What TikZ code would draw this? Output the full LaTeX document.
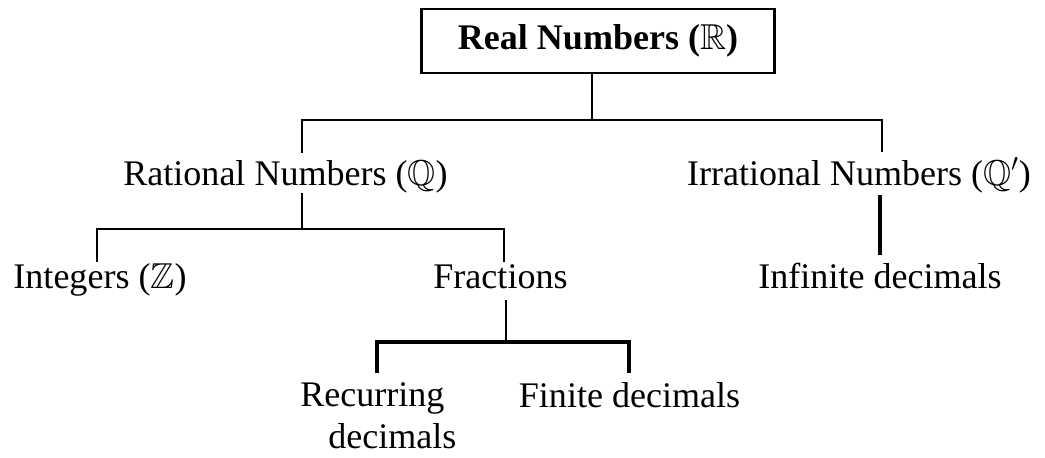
\documentclass[tikz,border=0pt]{standalone}
\usepackage{amsmath,amssymb}
\usepackage{fontspec}
\setmainfont{Liberation Serif}
\usepackage{tikz}
\usetikzlibrary{positioning}

\begin{document}
\begin{tikzpicture}[
  font=\fontsize{20.5}{24}\selectfont,
  lbl/.style={inner sep=0pt, anchor=base},
  topbox/.style={draw, line width=1.5pt, minimum width=7.06cm, minimum height=1.28cm,
                 font=\fontsize{20.5}{24}\selectfont\bfseries},
  tree/.style={line width=1.5pt},
  treebold/.style={line width=2.2pt}
]
\useasboundingbox (0,0) rectangle (20.9,9.14);

% Top box
\node[topbox] (real) at (11.96,8.32) {Real Numbers ($\mathbb{R}$)};

% Second level
\node[lbl] (rat) at (5.71,5.44) {Rational Numbers ($\mathbb{Q}$)};
\node[lbl] (irr) at (17.18,5.44) {Irrational Numbers ($\mathbb{Q}'$)};

% Third level
\node[lbl] (int) at (2.00,3.38) {Integers ($\mathbb{Z}$)};
\node[lbl] (frac) at (10.01,3.38) {Fractions};
\node[lbl] (inf) at (17.60,3.38) {Infinite decimals};

% Fourth level
\node[inner sep=0pt, anchor=north west, align=left] (rec) at (6.00,1.50)
  {Recurring\\\hspace*{0.56cm}decimals};
\node[lbl] (fin) at (12.59,1.00) {Finite decimals};

% Junctions
\coordinate (rj) at (11.84,6.74);
\coordinate (ratTop) at (6.04,6.08);
\coordinate (irrTop) at (17.64,6.10);
\coordinate (ratBot) at (6.04,5.28);
\coordinate (qj) at (6.04,4.56);
\coordinate (intTop) at (1.94,3.90);
\coordinate (fracTop) at (10.08,3.90);
\coordinate (fracBot) at (10.12,3.14);
\coordinate (fj) at (10.12,2.30);
\coordinate (recTop) at (7.54,1.68);
\coordinate (finTop) at (12.58,1.68);
\coordinate (irrBot) at (17.60,5.24);
\coordinate (infTop) at (17.60,4.04);

% Real -> rational / irrational
\draw[tree] (real.south -| rj) -- (rj);
\draw[tree] (ratTop) |- (rj) -| (irrTop);

% Rational -> integers / fractions
\draw[tree] (ratBot) -- (qj);
\draw[tree] (intTop) |- (qj) -| (fracTop);

% Irrational -> infinite decimals
\draw[treebold] (irrBot) -- (infTop);

% Fractions -> recurring / finite
\draw[tree] (fracBot) -- (fj);
\draw[treebold] (recTop) |- (fj) -| (finTop);

\end{tikzpicture}
\end{document}
